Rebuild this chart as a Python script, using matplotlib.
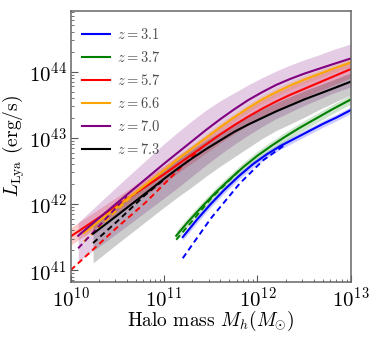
import matplotlib
matplotlib.use('Agg')

import matplotlib.pyplot as plt
import numpy as np

plt.rcParams['font.family'] = 'serif'
plt.rcParams['font.serif'] = ['cmr10', 'DejaVu Serif']
plt.rcParams['mathtext.fontset'] = 'cm'
plt.rcParams['axes.unicode_minus'] = False
plt.rcParams['axes.formatter.use_mathtext'] = True

# log10 halo mass / log10 Lya luminosity
labels = ['$z = 3.1$', '$z = 3.7$', '$z = 5.7$', '$z = 6.6$', '$z = 7.0$', '$z = 7.3$']
colors = ['blue', 'green', 'red', 'orange', 'purple', 'black']

grid = [11.0, 11.15, 11.3, 11.45, 11.6, 11.75, 11.9, 12.05, 12.2, 12.35,
        12.5, 12.65, 12.8, 13.0]

# solid lines
m_31 = [11.2, 11.35, 11.5, 11.65, 11.8, 11.95, 12.1, 12.25, 12.4, 12.55, 12.7, 12.85, 13.0]
l_31 = [41.50, 41.76, 42.00, 42.22, 42.42, 42.60, 42.75, 42.88, 42.99, 43.10, 43.21, 43.31, 43.42]
m_37 = [11.13, 11.25, 11.4, 11.55, 11.7, 11.85, 12.0, 12.15, 12.3, 12.45, 12.6, 12.8, 13.0]
l_37 = [41.52, 41.72, 41.95, 42.17, 42.37, 42.56, 42.73, 42.88, 43.02, 43.15, 43.27, 43.43, 43.58]
m_57 = [10.0, 10.5] + grid
l_57 = [41.51, 41.98, 42.45, 42.60, 42.75, 42.90, 43.05, 43.19, 43.32, 43.44,
        43.55, 43.65, 43.74, 43.83, 43.92, 44.04]
m_66 = [10.14, 10.5] + grid
l_66 = [41.56, 41.96, 42.51, 42.68, 42.84, 43.00, 43.16, 43.31, 43.45, 43.58,
        43.69, 43.79, 43.88, 43.96, 44.04, 44.14]
m_70 = [10.08, 10.5] + grid
l_70 = [41.52, 42.02, 42.61, 42.78, 42.95, 43.12, 43.28, 43.43, 43.57, 43.69,
        43.80, 43.89, 43.97, 44.04, 44.11, 44.20]
m_73 = [10.24, 10.5] + grid
l_73 = [41.55, 41.83, 42.38, 42.54, 42.69, 42.83, 42.96, 43.09, 43.20, 43.30,
        43.40, 43.49, 43.58, 43.66, 43.74, 43.85]

# dashed lines (until they join the solid ones)
dm_31 = [11.2, 11.5, 11.81, 12.06, 12.3]
dl_31 = [41.18, 41.78, 42.31, 42.66, 42.90]
dm_37 = [11.13, 11.3, 11.5, 11.8]
dl_37 = [41.46, 41.74, 42.08, 42.50]
dm_57 = [10.0, 10.5, 10.8, 11.0, 11.2, 11.4]
dl_57 = [41.00, 41.65, 42.02, 42.30, 42.58, 42.85]
dm_66 = [10.14, 10.4, 10.7]
dl_66 = [41.43, 41.78, 42.18]
dm_70 = [10.08, 10.3, 10.6]
dl_70 = [41.33, 41.66, 42.12]
dm_73 = [10.24, 10.5, 10.8, 11.0]
dl_73 = [41.41, 41.74, 42.14, 42.37]

# shaded bands (half width in dex around the solid line)
band_31 = 0.05
band_37 = 0.07
band_57 = 0.13
band_66 = 0.06
lo_70 = [41.13, 41.56, 42.09, 42.25, 42.42, 42.59, 42.75, 42.90, 43.04, 43.17,
         43.29, 43.39, 43.49, 43.58, 43.67, 43.77]
hi_70 = [41.72, 42.27, 42.91, 43.09, 43.26, 43.42, 43.56, 43.68, 43.80, 43.91,
         44.01, 44.10, 44.18, 44.25, 44.33, 44.42]
lo_73 = [41.11, 41.40, 41.95, 42.11, 42.26, 42.42, 42.57, 42.71, 42.85, 42.99,
         43.11, 43.21, 43.31, 43.42, 43.52, 43.65]
band_73_up = 0.13

solid_m = [m_31, m_37, m_57, m_66, m_70, m_73]
solid_l = [l_31, l_37, l_57, l_66, l_70, l_73]
dash_m = [dm_31, dm_37, dm_57, dm_66, dm_70, dm_73]
dash_l = [dl_31, dl_37, dl_57, dl_66, dl_70, dl_73]

fig = plt.figure(figsize=(3.74, 3.39), dpi=100)
ax = fig.add_axes([0.189, 0.168, 0.749, 0.800])

# bands
for m, l, w, c in [(m_31, l_31, band_31, 'blue'), (m_37, l_37, band_37, 'green'),
                   (m_57, l_57, band_57, 'red'), (m_66, l_66, band_66, 'orange')]:
    m = np.array(m)
    l = np.array(l)
    ax.fill_between(10**m, 10**(l - w), 10**(l + w), color=c, alpha=0.2, lw=0)
ax.fill_between(10**np.array(m_70), 10**np.array(lo_70), 10**np.array(hi_70),
                color='purple', alpha=0.2, lw=0)
ax.fill_between(10**np.array(m_73), 10**np.array(lo_73),
                10**(np.array(l_73) + band_73_up), color='black', alpha=0.2, lw=0)

for i in range(len(labels)):
    ax.plot(10**np.array(dash_m[i]), 10**np.array(dash_l[i]), '--',
            color=colors[i], lw=1.4, dashes=(3, 2))
    ax.plot(10**np.array(solid_m[i]), 10**np.array(solid_l[i]), '-',
            color=colors[i], lw=1.5, label=labels[i])

ax.set_xscale('log')
ax.set_yscale('log')
ax.set_xlim(1e10, 1e13)
ax.set_ylim(10**40.82, 10**44.92)

ax.set_xlabel(r'Halo mass $M_h(M_{\odot})$', fontsize=14, labelpad=-1)
ax.set_ylabel(r'$L_{\rm Lya}$ (erg/s)', fontsize=14, labelpad=1)

ax.tick_params(which='both', direction='in', colors='0.35', labelcolor='black',
               labelsize=15, right=False, top=False)
ax.tick_params(which='major', length=5, width=0.8, pad=3)
ax.tick_params(which='minor', length=2.5, width=0.6)
for s in ax.spines.values():
    s.set_color('0.4')
    s.set_linewidth(1.1)

leg = ax.legend(loc='upper left', bbox_to_anchor=(0.0, 0.982), frameon=False,
                fontsize=10.5, handlelength=1.95, labelspacing=0.55,
                borderaxespad=0.35, handletextpad=0.45)
for t in leg.get_texts():
    t.set_color('0.3')

plt.savefig('out.png', dpi=100)
plt.close()
